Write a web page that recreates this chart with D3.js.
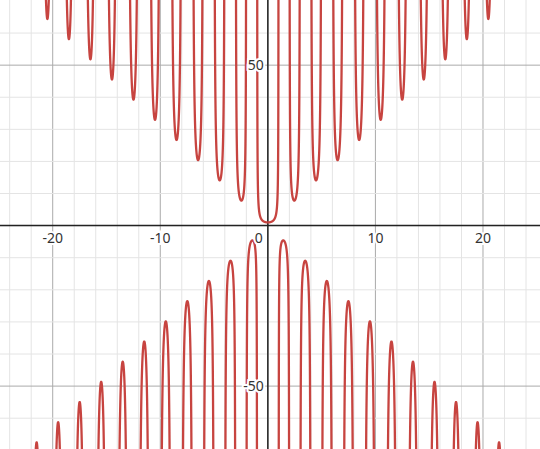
<!DOCTYPE html>
<html><head><meta charset="utf-8">
<script src="https://cdn.jsdelivr.net/npm/d3@7"></script>
<style>body{margin:0;background:#fff}text{font-family:"Noto Sans",Arial,sans-serif}</style>
</head><body>
<script>
// curve: y = coef * x / sin(pi * x)
const coef = Math.PI;
const xTicks = [-20, -10, 10, 20];
const yTicks = [50, -50];
const xMinor = d3.range(-24, 26, 2);
const yMinor = d3.range(-60, 70, 10);

const W = 540, H = 449;
const x = d3.scaleLinear().domain([-24.9, 25.3]).range([0, W]);
const y = d3.scaleLinear().domain([70.3, -69.6]).range([0, H]);

const svg = d3.select('body').append('svg').attr('width', W).attr('height', H);

svg.selectAll('.vm').data(xMinor).enter().append('line')
  .attr('x1', d => x(d)).attr('x2', d => x(d)).attr('y1', 0).attr('y2', H)
  .attr('stroke', d => d % 10 === 0 ? '#aaa' : '#e4e4e4').attr('stroke-width', 1);
svg.selectAll('.hm').data(yMinor).enter().append('line')
  .attr('y1', d => y(d)).attr('y2', d => y(d)).attr('x1', 0).attr('x2', W)
  .attr('stroke', d => d % 50 === 0 ? '#aaa' : '#e4e4e4').attr('stroke-width', 1);

svg.append('line').attr('x1', 0).attr('x2', W).attr('y1', y(0)).attr('y2', y(0)).attr('stroke', '#222').attr('stroke-width', 1.5);
svg.append('line').attr('y1', 0).attr('y2', H).attr('x1', x(0)).attr('x2', x(0)).attr('stroke', '#222').attr('stroke-width', 1.5);

const line = d3.line().x(d => x(d[0])).y(d => y(d[1]));
const g = svg.append('g');
for (let k = -26; k < 26; k++) {
  const pts = [];
  for (let i = 1; i < 400; i++) {
    const xv = k + i / 400;
    const yv = coef * xv / Math.sin(Math.PI * xv);
    if (Math.abs(yv) < 200) pts.push([xv, yv]);
  }
  g.append('path').attr('d', line(pts)).attr('fill', 'none')
    .attr('stroke', '#c74440').attr('stroke-width', 2.3);
}

function label(t, px, py, anchor) {
  svg.append('text').attr('x', px).attr('y', py).attr('text-anchor', anchor)
    .attr('font-size', 14).attr('fill', '#fff').attr('stroke', '#fff').attr('stroke-width', 4).text(t);
  svg.append('text').attr('x', px).attr('y', py).attr('text-anchor', anchor)
    .attr('font-size', 14).attr('fill', '#333').text(t);
}
xTicks.forEach(d => label(String(d), x(d), y(0) + 17, 'middle'));
yTicks.forEach(d => label(String(d), x(0) - 4, y(d) + 5, 'end'));
label('0', x(0) - 5, y(0) + 17, 'end');
</script>
</body></html>
